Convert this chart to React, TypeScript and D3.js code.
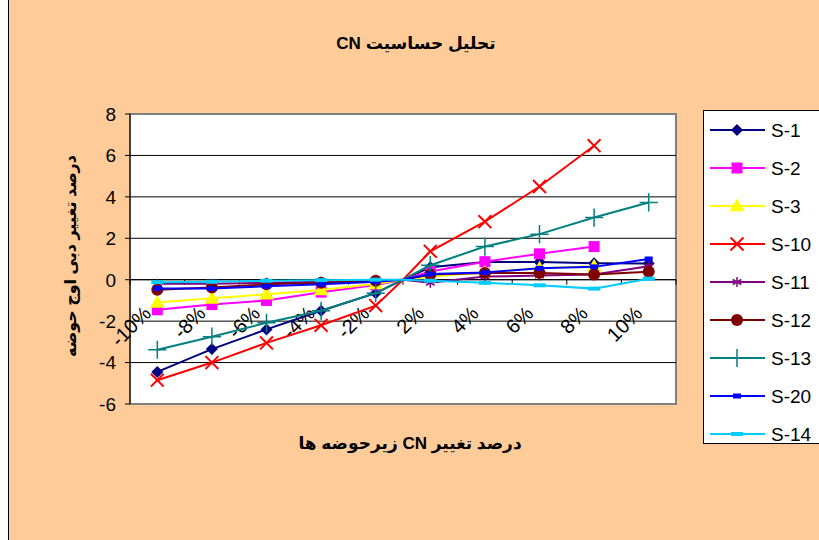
import * as d3 from 'd3';

// x categories (0% is an unlabeled point where every series meets)
const xCats = ['-10%', '-8%', '-6%', '-4%', '-2%', '0%', '2%', '4%', '6%', '8%', '10%'];
const xLabels = ['-10%', '-8%', '-6%', '-4%', '-2%', '2%', '4%', '6%', '8%', '10%'];
const yTicks = [-6, -4, -2, 0, 2, 4, 6, 8];

const seriesNames = ['S-1', 'S-2', 'S-3', 'S-10', 'S-11', 'S-12', 'S-13', 'S-20', 'S-14'];
const s1 = [-4.45, -3.35, -2.4, -1.5, -0.65, 0, 0.6, 0.85, 0.85, 0.8, 0.78];
const s2 = [-1.45, -1.2, -1.0, -0.6, -0.25, 0, 0.4, 0.87, 1.25, 1.6, null];
const s3 = [-1.1, -0.9, -0.7, -0.5, -0.2, 0, 0.15, 0.35, 0.55, 0.65, null];
const s10 = [-4.85, -4.0, -3.05, -2.2, -1.25, 0, 1.37, 2.8, 4.5, 6.47, null];
const s11 = [-0.2, -0.2, -0.15, -0.1, -0.05, 0, -0.15, 0.15, 0.2, 0.25, 0.65];
const s12 = [-0.48, -0.38, -0.22, -0.15, -0.05, 0, 0.25, 0.33, 0.33, 0.25, 0.38];
const s13 = [-3.38, -2.75, -2.08, -1.5, -0.65, 0, 0.7, 1.6, 2.2, 3.0, 3.73];
const s20 = [-0.42, -0.42, -0.32, -0.22, -0.1, 0, 0.28, 0.35, 0.55, 0.62, 1.0];
const s14 = [-0.12, -0.1, -0.05, -0.02, 0, 0, -0.05, -0.15, -0.27, -0.43, 0.05];

const seriesValues = [s1, s2, s3, s10, s11, s12, s13, s20, s14];
const colors = ['#000080', '#FF00FF', '#FFFF00', '#FF0000', '#800080', '#800000', '#008080', '#0000FF', '#00CCFF'];
const markers = ['diamond', 'square', 'triangle', 'x', 'asterisk', 'circle', 'plus', 'dash', 'wide'];

const W = 819;
const H = 540;
const plot = { left: 130, right: 676, top: 114, bottom: 404 };
const FONT = "'Liberation Sans', Arial, 'DejaVu Sans', sans-serif";

const band = d3.scaleBand<string>().domain(xLabels).range([plot.left, plot.right]);
const xPos = (c: string) => (c === '0%' ? (band('2%') as number) : (band(c) as number) + band.bandwidth() / 2);
const y = d3.scaleLinear().domain([-6, 8]).range([plot.bottom, plot.top]);

const Marker = ({ type, color, x, yy }: { type: string; color: string; x: number; yy: number }) => {
  const t = `translate(${x},${yy})`;
  switch (type) {
    case 'diamond':
      return <path transform={`${t} rotate(45)`} d={d3.symbol(d3.symbolSquare, 72)()!} fill={color} />;
    case 'square':
      return <rect x={x - 5.5} y={yy - 5.5} width={11} height={11} fill={color} />;
    case 'triangle':
      return <path transform={`translate(${x},${yy + 1})`} d={d3.symbol(d3.symbolTriangle, 95)()!} fill={color} />;
    case 'x':
      return <path transform={t} d={d3.symbol(d3.symbolX, 110)()!} fill="none" stroke={color} strokeWidth={2} />;
    case 'asterisk':
      return <path transform={t} d={d3.symbol(d3.symbolAsterisk, 70)()!} fill="none" stroke={color} strokeWidth={1.5} />;
    case 'circle':
      return <circle cx={x} cy={yy} r={6} fill={color} />;
    case 'plus':
      return <path transform={t} d={d3.symbol(d3.symbolPlus, 110)()!} fill="none" stroke={color} strokeWidth={1.5} />;
    case 'dash':
      return <rect x={x - 4} y={yy - 2.5} width={8} height={5} fill={color} />;
    default:
      return <rect x={x - 6} y={yy - 2} width={12} height={4} fill={color} />;
  }
};

export default function App() {
  const line = d3
    .line<{ c: string; v: number | null }>()
    .defined(d => d.v !== null)
    .x(d => xPos(d.c))
    .y(d => y(d.v as number));

  const gridVals = yTicks.filter(v => v > -6 && v < 8);

  return (
    <div style={{ position: 'absolute', left: 0, top: 0 }}>
      <svg width={W} height={H} style={{ display: 'block', fontFamily: FONT }}>
        <rect x={0} y={0} width={W} height={H} fill="#fff" />
        <rect x={8.5} y={-5} width={W + 10} height={H + 10} fill="#FFCC99" stroke="#000" />

        {/* title */}
        <text x={416} y={49} textAnchor="middle" direction="rtl" fontSize={17} fontWeight="bold">
          تحلیل حساسیت CN
        </text>

        {/* plot area */}
        <rect x={plot.left} y={plot.top} width={plot.right - plot.left} height={plot.bottom - plot.top} fill="#fff" stroke="#808080" strokeWidth={2} />
        {gridVals.map(v => (
          <line key={v} x1={plot.left} x2={plot.right} y1={y(v)} y2={y(v)} stroke="#000" strokeWidth={1} />
        ))}

        {/* y axis */}
        <line x1={plot.left} x2={plot.left} y1={plot.top} y2={plot.bottom} stroke="#000" />
        {yTicks.map(v => (
          <g key={v}>
            <line x1={plot.left - 5} x2={plot.left} y1={y(v)} y2={y(v)} stroke="#000" />
            <text x={plot.left - 14} y={y(v)} dy="0.36em" textAnchor="end" fontSize={19}>
              {v}
            </text>
          </g>
        ))}

        {/* x tick labels, rotated (drawn under the series like the original) */}
        {xLabels.map(l => (
          <text
            key={l}
            transform={`translate(${xPos(l) - 10},${y(0) + 30}) rotate(-45)`}
            textAnchor="end"
            dy="0.35em"
            fontSize={20}
          >
            {l}
          </text>
        ))}

        {/* x axis ticks at zero */}
        {d3.range(0, xLabels.length + 1).map(i => {
          const xx = plot.left + i * band.step();
          return <line key={i} x1={xx} x2={xx} y1={y(0)} y2={y(0) + 5} stroke="#000" />;
        })}
        <line x1={plot.left} x2={plot.right} y1={y(0)} y2={y(0)} stroke="#000" />

        {/* series */}
        {seriesValues.map((vals, si) => {
          const pts = xCats.map((c, i) => ({ c, v: vals[i] }));
          return (
            <g key={seriesNames[si]}>
              <path d={line(pts)!} fill="none" stroke={colors[si]} strokeWidth={2} />
              {pts
                .filter(p => p.v !== null && p.c !== '0%')
                .map(p => (
                  <Marker key={p.c} type={markers[si]} color={colors[si]} x={xPos(p.c)} yy={y(p.v as number)} />
                ))}
            </g>
          );
        })}

        {/* axis titles */}
        <text transform={`translate(70,256) rotate(-90)`} textAnchor="middle" direction="rtl" dy="0.35em" fontSize={16} fontWeight="bold">
          درصد تغییر دبی اوج حوضه
        </text>
        <text x={410} y={449} textAnchor="middle" direction="rtl" fontSize={17} fontWeight="bold">
          درصد تغییر CN زیرحوضه ها
        </text>

        {/* legend */}
        <rect x={703.5} y={110.5} width={116} height={333} fill="#fff" stroke="#000" />
        {seriesNames.map((name, i) => {
          const ly = 130 + i * 38;
          return (
            <g key={name}>
              <line x1={710} x2={765} y1={ly} y2={ly} stroke={colors[i]} strokeWidth={2} />
              <Marker type={markers[i]} color={colors[i]} x={737} yy={ly} />
              <text x={771} y={ly} dy="0.36em" fontSize={19}>
                {name}
              </text>
            </g>
          );
        })}
      </svg>
    </div>
  );
}
